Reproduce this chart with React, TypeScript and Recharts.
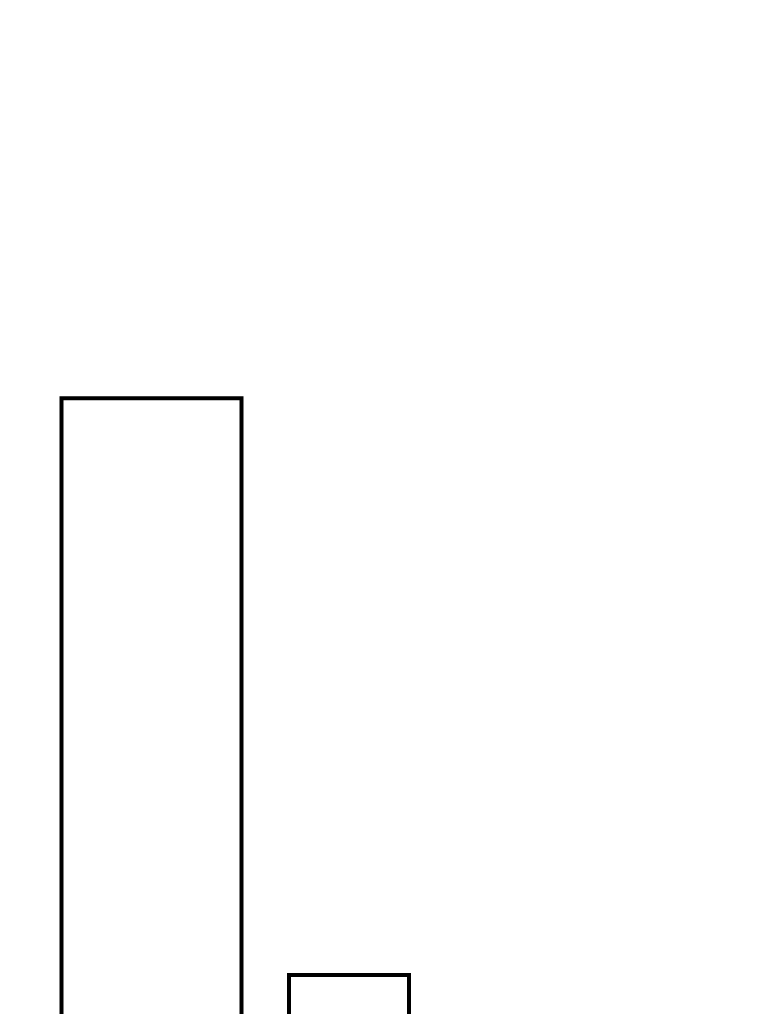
import React from "react";
import { BarChart, Bar, XAxis, YAxis } from "recharts";

const categories = ["A", "B"];
const wideSeries = [68.6, null];
const narrowSeries = [null, 7.9];

const data = categories.map((c, i) => ({
  name: c,
  wide: wideSeries[i],
  narrow: narrowSeries[i],
}));

export default function App() {
  return (
    <div style={{ position: "absolute", left: 0, top: 0, width: 760, height: 1014, overflow: "hidden", background: "#fff" }}>
      <BarChart
        width={760}
        height={1100}
        data={data}
        margin={{ top: 100, right: 312.5, bottom: 50, left: 52.5 }}
      >
        <XAxis xAxisId="w" dataKey="name" hide />
        <XAxis xAxisId="n" dataKey="name" hide />
        <YAxis domain={[0, 100]} hide />
        <Bar
          xAxisId="w"
          dataKey="wide"
          barSize={180}
          fill="#fff"
          stroke="#000"
          strokeWidth={4}
          isAnimationActive={false}
        />
        <Bar
          xAxisId="n"
          dataKey="narrow"
          barSize={120}
          fill="#fff"
          stroke="#000"
          strokeWidth={4}
          isAnimationActive={false}
        />
      </BarChart>
    </div>
  );
}
